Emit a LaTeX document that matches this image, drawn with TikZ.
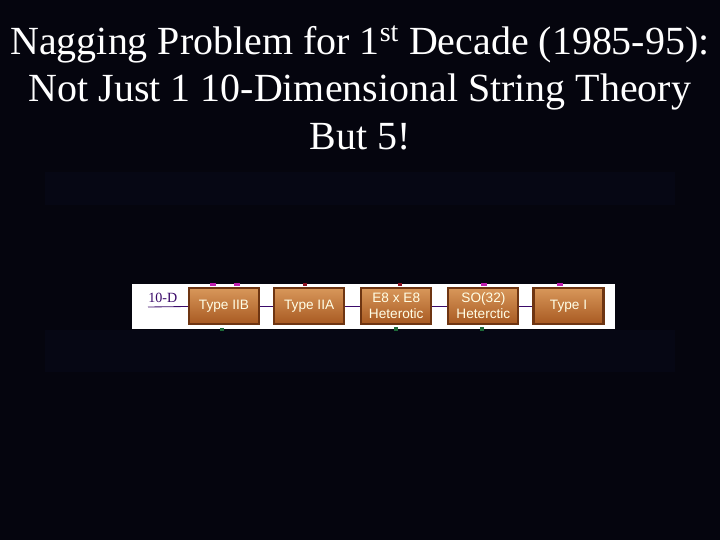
\documentclass[tikz,border=0pt]{standalone}
\usepackage{fontspec}
\setmainfont{Liberation Serif}
\newfontfamily\boxfont{Liberation Sans}
\usetikzlibrary{positioning}
\definecolor{bgnavy}{HTML}{05050E}
\definecolor{bandnavy}{HTML}{060714}
\definecolor{wood}{HTML}{A85A22}
\definecolor{wooddark}{HTML}{6E3512}
\definecolor{woodlight}{HTML}{D8975A}
\definecolor{dpurple}{HTML}{3A0A6A}
\definecolor{pinkmark}{HTML}{C020B0}
\definecolor{redmark}{HTML}{8A1020}
\definecolor{greenmark}{HTML}{1E6A3A}
\begin{document}
\begin{tikzpicture}[x=0.025cm, y=-0.025cm]
  \tikzstyle{title}=[text=white, font=\fontsize{28.4}{34}\selectfont, align=center]
  \tikzstyle{brane}=[draw=wooddark, line width=1.5pt, top color=woodlight, bottom color=wood,
                     minimum width=1.75cm, minimum height=0.9cm, inner sep=0pt,
                     text=white!90!yellow, font=\boxfont\fontsize{9.7}{11.5}\selectfont, align=center]
  \tikzstyle{link}=[dpurple, line width=0.6pt]
  \fill[bgnavy] (0,0) rectangle (720,540);
  \fill[bandnavy] (45,172) rectangle (675,205);
  \fill[bandnavy] (45,330) rectangle (675,372);
  \node[title] (head) at (360,88) {Nagging Problem for 1\textsuperscript{st} Decade (1985-95):\\
    Not Just 1 10-Dimensional String Theory\\ But 5!};
  \fill[white] (132,284) rectangle (615,329);
  % the five theories
  \node[brane] (iib) at (224,306) {Type IIB};
  \node[brane, right=0.325cm of iib] (iia) {Type IIA};
  \node[brane, right=0.375cm of iia] (ee) {E8 x E8\\Heterotic};
  \node[brane, right=0.375cm of ee] (so) {SO(32)\\Heterctic};
  \node[brane, right=0.325cm of so] (ti) {Type I};
  \coordinate (start) at (148,307);
  \node[dpurple, font=\fontsize{10}{12}\selectfont, anchor=south west, inner sep=0pt] (tend) at (148,303) {10-D};
  \draw[link] (start) -- (iib);
  \draw[link] (iib) -- (iia);
  \draw[link] (iia) -- (ee);
  \draw[link] (ee) -- (so);
  \draw[link] (so) -- (ti);
  % small marks on the panel edges
  \fill[pinkmark] (210,283) rectangle (216,286);
  \fill[pinkmark] (234,283) rectangle (240,286);
  \fill[redmark] (303,283) rectangle (307,286);
  \fill[redmark] (398,283) rectangle (402,286);
  \fill[pinkmark] (481,283) rectangle (487,286);
  \fill[pinkmark] (557,283) rectangle (563,286);
  \fill[greenmark] (220,328) rectangle (224,331);
  \fill[greenmark] (394,327) rectangle (398,331);
  \fill[greenmark] (480,327) rectangle (484,331);
\end{tikzpicture}
\end{document}
